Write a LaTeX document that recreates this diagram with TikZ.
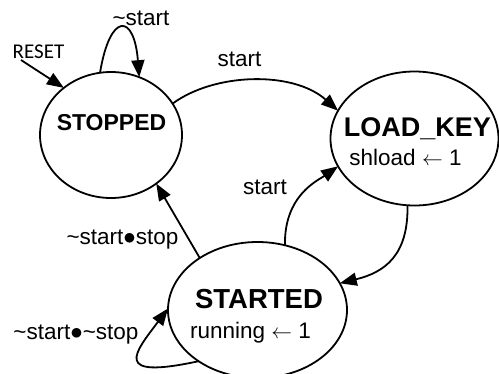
\documentclass[tikz,border=0pt]{standalone}
\usepackage{fontspec}
\setmainfont{Liberation Sans}
\newfontfamily\resetfont{Carlito}
\usetikzlibrary{arrows.meta,shapes.geometric}

\newcommand{\andop}{{\fontsize{29}{29}\selectfont$\bullet$}}

\tikzset{
  statebox/.style={draw, line width=1.8pt, ellipse, inner sep=0pt, outer sep=0pt},
  statename/.style={anchor=base, inner sep=0pt, font=\bfseries},
  actiontext/.style={anchor=base, inner sep=0pt, font=\fontsize{22.5}{26}\selectfont},
  edgelabel/.style={anchor=base, inner sep=0pt, font=\fontsize{22.5}{26}\selectfont},
  transition/.style={line width=1.8pt, -{Triangle[length=17pt,width=13pt]}},
}

\begin{document}
\begin{tikzpicture}[x=1pt, y=-1pt]
  \useasboundingbox (0,0) rectangle (499,373);

  % states
  \node[statebox, minimum width=142pt, minimum height=126pt] (stopped) at (111,135) {};
  \node[statebox, minimum width=168pt, minimum height=134pt] (loadkey) at (414.5,138.5) {};
  \node[statebox, minimum width=179pt, minimum height=136pt] (started) at (257.5,310) {};

  % state names and actions
  \node[statename, font=\fontsize{23}{27}\selectfont\bfseries] (tstopped) at (111.5,130) {STOPPED};
  \node[statename, font=\fontsize{27}{31}\selectfont\bfseries] (tloadkey) at (417.5,136.7) {LOAD\_KEY};
  \node[actiontext] (aloadkey) at (405.5,165) {shload $\leftarrow$ 1};
  \node[statename, font=\fontsize{27.5}{31}\selectfont\bfseries] (tstarted) at (259,308) {STARTED};
  \node[actiontext] (astarted) at (250.5,338) {running $\leftarrow$ 1};

  % reset entry
  \node[anchor=base, inner sep=0pt, font=\resetfont\fontsize{21}{25}\selectfont] (reset) at (38.5,58) {RESET};
  \coordinate (resetstart) at (21,60);
  \draw[transition] (resetstart) -- (stopped.135);

  % transitions
  \draw[transition] (stopped.100) .. controls +(10,-61) and +(-5,-64) .. (stopped.64);
  \node[edgelabel] (lidle) at (141,25) {\textasciitilde start};

  \draw[transition] (stopped.27) .. controls +(42,-31) and +(-45,-40) .. (loadkey.160);
  \node[edgelabel] (lgo) at (239.5,66.5) {start};

  \draw[transition] (started.67) .. controls +(-1,-50) and +(-20,14) .. (loadkey.200);
  \node[edgelabel] (lrestart) at (265,194) {start};

  \draw[transition] (loadkey.264) .. controls +(1,50) and +(45,-11) .. (started.18);

  \draw[transition] (started.138) -- (stopped.313);
  \node[edgelabel] (lstop) at (122.5,244) {\textasciitilde start\andop stop};

  \draw[transition] (started.221) .. controls +(-88,19) and +(-33,44) .. (started.179);
  \node[edgelabel] (lrun) at (76,339) {\textasciitilde start\andop\textasciitilde stop};
\end{tikzpicture}
\end{document}
